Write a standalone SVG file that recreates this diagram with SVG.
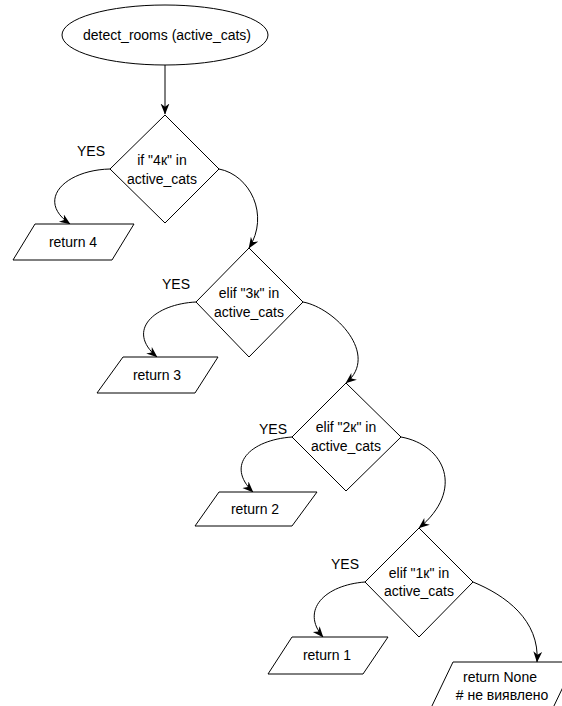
<svg xmlns="http://www.w3.org/2000/svg" width="562" height="706" viewBox="0 0 562 706">
<defs>
<style>
.shape{fill:#fff;stroke:#000;stroke-width:1}
.edge{fill:none;stroke:#000;stroke-width:1;marker-end:url(#arr)}
text{font-family:"Liberation Sans",Arial,sans-serif;font-size:14px;fill:#000;text-anchor:middle}
</style>
<marker id="arr" viewBox="0 0 10 10" refX="9.5" refY="5" markerWidth="11" markerHeight="11" markerUnits="userSpaceOnUse" orient="auto">
<path d="M0,1 L10,5 L0,9 L3,5 Z" fill="#000"/>
</marker>
</defs>
<rect width="562" height="706" fill="#fff"/>
<g id="connectors">
<path class="edge" d="M165,65 L165,114"/>
<path class="edge" d="M110,169 C65,170 35,200 70,224"/>
<path class="edge" d="M219,169 C250,175 270,215 249,248"/>
<path class="edge" d="M196,302 C155,304 125,330 157,357"/>
<path class="edge" d="M303,302 C335,308 380,355 346,383"/>
<path class="edge" d="M292,437 C250,440 225,465 253,492"/>
<path class="edge" d="M401,437 C445,445 465,490 419,528"/>
<path class="edge" d="M365,582 C325,585 300,610 323,637"/>
<path class="edge" d="M473,582 C505,595 540,620 537,662"/>
</g>
<g id="start">
<ellipse class="shape" cx="165" cy="35" rx="103" ry="30"/>
<text x="167" y="40">detect_rooms (active_cats)</text>
</g>
<g id="if4">
<polygon class="shape" points="165,115 219,169 165,223 110,169"/>
<text x="162" y="165">if "4к" in</text>
<text x="162" y="184">active_cats</text>
<text x="91" y="156">YES</text>
</g>
<g id="ret4">
<polygon class="shape" points="35,224 134,224 112,260 13,260"/>
<text x="73" y="247">return 4</text>
</g>
<g id="if3">
<polygon class="shape" points="249,248 303,302 249,357 196,302"/>
<text x="249" y="298">elif "3к" in</text>
<text x="249" y="317">active_cats</text>
<text x="176" y="289">YES</text>
</g>
<g id="ret3">
<polygon class="shape" points="123,357 218,357 195,393 97,393"/>
<text x="157" y="380">return 3</text>
</g>
<g id="if2">
<polygon class="shape" points="346,383 401,437 346,491 292,437"/>
<text x="346" y="432">elif "2к" in</text>
<text x="346" y="451">active_cats</text>
<text x="273" y="434">YES</text>
</g>
<g id="ret2">
<polygon class="shape" points="219,492 317,492 292,526 195,526"/>
<text x="255" y="514">return 2</text>
</g>
<g id="if1">
<polygon class="shape" points="419,528 473,582 419,637 365,582"/>
<text x="419" y="578">elif "1к" in</text>
<text x="419" y="596">active_cats</text>
<text x="345" y="569">YES</text>
</g>
<g id="ret1">
<polygon class="shape" points="292,637 388,637 363,674 268,674"/>
<text x="327" y="660">return 1</text>
</g>
<g id="retNone">
<polygon class="shape" points="453,662 575,662 552,710 430,710"/>
<text x="500" y="682">return None</text>
<text x="502" y="700">#&#160;не виявлено</text>
</g>
</svg>
